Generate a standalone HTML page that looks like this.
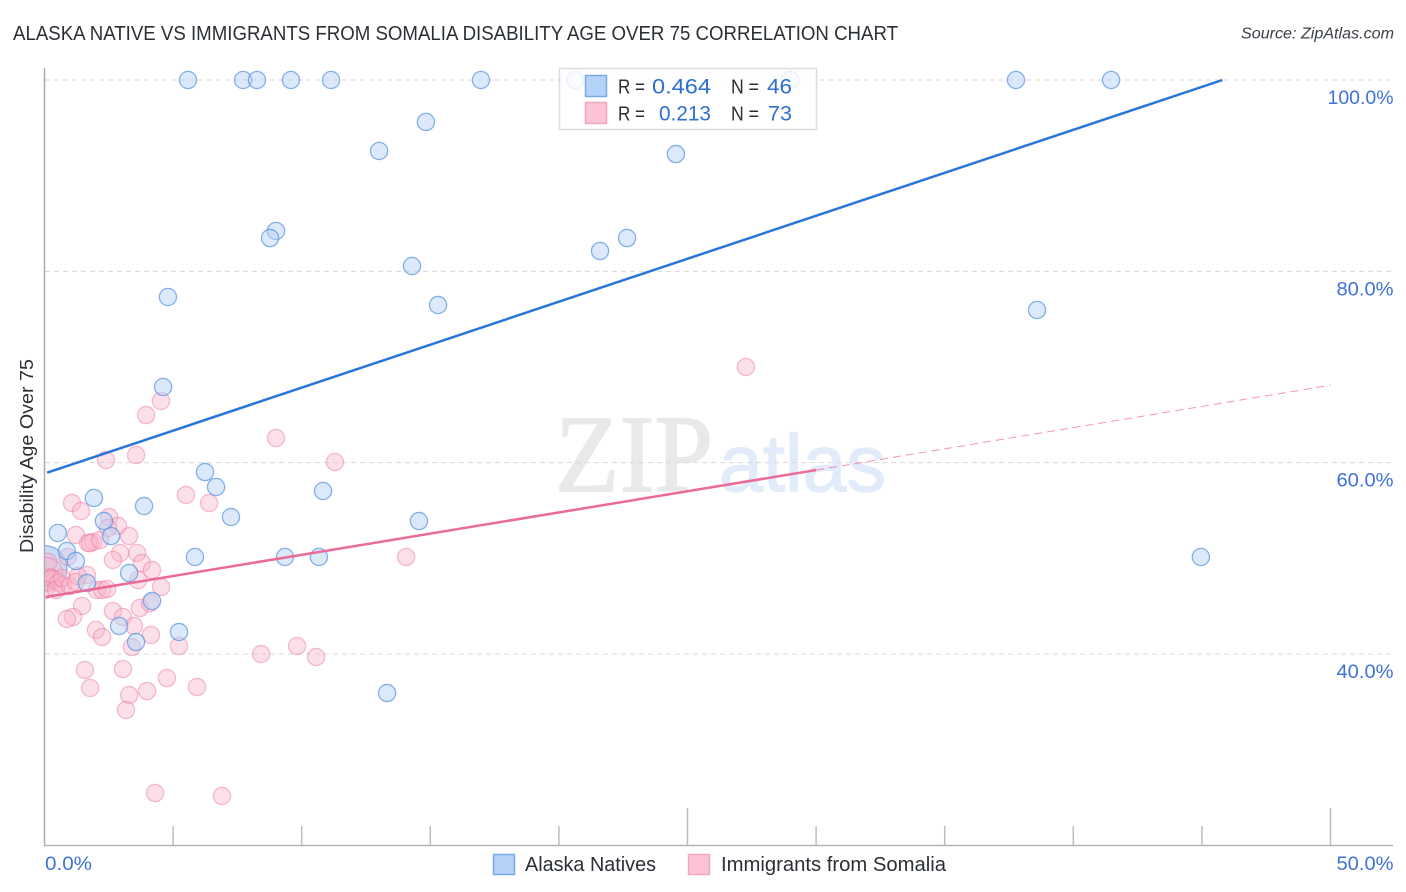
<!DOCTYPE html>
<html lang="en">
<head>
<meta charset="utf-8">
<title>Alaska Native vs Immigrants from Somalia Disability Age Over 75 Correlation Chart</title>
<style>
html,body{margin:0;padding:0;background:#fff;width:1406px;height:892px;overflow:hidden}
svg{display:block;font-family:"Liberation Sans",sans-serif}
</style>
</head>
<body>
<svg id="chart" xmlns="http://www.w3.org/2000/svg" width="1406" height="892" viewBox="0 0 1406 892">
  <defs><clipPath id="plot-clip"><rect x="45" y="60" width="1350" height="785"/></clipPath></defs>
  <text x="13" y="40" font-size="20" fill="#2b2f36" textLength="885" lengthAdjust="spacingAndGlyphs">ALASKA NATIVE VS IMMIGRANTS FROM SOMALIA DISABILITY AGE OVER 75 CORRELATION CHART</text>
  <text x="1241" y="38.500" font-size="15.500" font-style="italic" fill="#3a3f47" textLength="153" lengthAdjust="spacingAndGlyphs">Source: ZipAtlas.com</text>
  <g>
    <text x="555" y="491" font-size="110" font-family="'Liberation Serif',serif" fill="#e9e9e9" stroke="#e9e9e9" stroke-width="1.5" textLength="158" lengthAdjust="spacingAndGlyphs">ZIP</text>
    <text x="719" y="491" font-size="81" fill="#e1ebfa" stroke="#e1ebfa" stroke-width="1.2" textLength="167" lengthAdjust="spacingAndGlyphs">atlas</text>
  </g>
  <g id="grid"></g>
  <g id="axes"></g>
  <g id="points" clip-path="url(#plot-clip)"></g>
  <g id="trends"></g>
  <text transform="translate(33,553) rotate(-90)" font-size="18" fill="#2b2f36" textLength="194" lengthAdjust="spacingAndGlyphs">Disability Age Over 75</text>
  <g font-size="20">
    <rect x="559.500" y="68.500" width="257" height="61" fill="#fff" fill-opacity="0.82" stroke="#dcdcdc" stroke-width="1.500"/>
    <rect x="585.500" y="75.500" width="21" height="21" fill="#b5d3f9" stroke="#7aa9e8" stroke-width="1.500"/>
    <rect x="585.500" y="102.500" width="21" height="21" fill="#fcc3d6" stroke="#f2a6c0" stroke-width="1.500"/>
    <text x="618" y="93.500" fill="#2b2f36" textLength="27" lengthAdjust="spacingAndGlyphs">R =</text>
    <text x="652" y="93.500" fill="#2f6fd0" font-size="21.500" textLength="59" lengthAdjust="spacingAndGlyphs">0.464</text>
    <text x="731" y="93.500" fill="#2b2f36" textLength="28" lengthAdjust="spacingAndGlyphs">N =</text>
    <text x="767" y="93.500" fill="#2f6fd0" font-size="21.500" textLength="25" lengthAdjust="spacingAndGlyphs">46</text>
    <text x="618" y="120.500" fill="#2b2f36" textLength="27" lengthAdjust="spacingAndGlyphs">R =</text>
    <text x="659" y="120.500" fill="#2f6fd0" font-size="21.500" textLength="52" lengthAdjust="spacingAndGlyphs">0.213</text>
    <text x="731" y="120.500" fill="#2b2f36" textLength="28" lengthAdjust="spacingAndGlyphs">N =</text>
    <text x="768" y="120.500" fill="#2f6fd0" font-size="21.500" textLength="24" lengthAdjust="spacingAndGlyphs">73</text>
  </g>
  <g font-size="20" fill="#2b2f36">
    <rect x="493.500" y="854.500" width="21" height="20" fill="#b5d3f9" stroke="#7aa9e8" stroke-width="1.500"/>
    <text x="525" y="871" textLength="131" lengthAdjust="spacingAndGlyphs">Alaska Natives</text>
    <rect x="688.500" y="854.500" width="21" height="20" fill="#fcc3d6" stroke="#f2a6c0" stroke-width="1.500"/>
    <text x="721" y="871" textLength="225" lengthAdjust="spacingAndGlyphs">Immigrants from Somalia</text>
  </g>
</svg>
<script>
const yTicks = [100, 80, 60, 40];
const yTickLabels = ["100.0%", "80.0%", "60.0%", "40.0%"];
const xTicks = [5, 10, 15, 20, 25, 30, 35, 40, 45, 50];
const xMajorTicks = [25, 50];
const xEndLabels = ["0.0%", "50.0%"];

const blueX = [5.58,7.72,8.26,9.58,11.14,16.97,20.63,28.99,37.77,41.47,14.83,13.01,24.55,9.00,8.77,22.65,21.60,14.29,4.80,15.30,38.59,4.61,6.24,6.67,10.83,1.92,3.87,7.25,2.31,14.56,0.52,2.59,0.87,1.22,5.85,9.35,10.67,44.96,3.29,1.65,4.18,2.90,5.23,3.56,13.32,0.00];
const blueY = [100,100,100,100,100,100,100,100,100,100,95.61,92.58,92.26,84.22,83.48,83.48,82.13,80.56,77.32,76.48,75.96,67.91,59.02,57.46,57.04,56.31,55.47,54.32,53.90,53.90,52.65,52.33,50.77,49.72,50.14,50.14,50.14,50.14,48.47,47.42,45.54,42.93,42.30,41.25,35.92,48.99];
const blueSize = [1,1,1,1,1,1,1,1,1,1,1,1,1,1,1,1,1,1,1,1,1,1,1,1,1,1,1,1,1,1,1,1,1,1,1,1,1,1,1,1,1,1,1,1,1,2.6];

const pinkX = [27.27,3.95,4.53,9.00,2.39,3.56,11.29,5.50,6.40,1.07,1.42,2.51,2.86,2.47,1.22,3.29,1.69,1.89,1.77,2.16,2.94,2.66,3.60,3.79,4.18,3.64,4.53,14.06,0.91,1.65,2.04,2.24,2.43,1.46,1.11,0.87,2.66,3.05,3.48,3.71,4.10,2.00,2.24,4.14,5.23,3.40,1.57,3.05,4.76,1.77,3.99,3.29,5.93,3.17,8.42,9.82,10.56,4.30,6.90,0.14,0.05,0.21,0.41,0.25,0.28,0.52,0.72,0.02,0.45,0.68,0.99,1.30,1.22];
const pinkY = [70.00,64.98,66.45,62.58,60.28,60.80,60.07,56.62,55.78,55.78,54.95,54.32,53.38,53.17,52.44,52.33,51.60,51.71,51.60,51.92,50.56,49.83,50.56,49.51,48.78,47.73,47.00,50.14,50.14,48.26,46.69,46.69,46.79,45.02,43.87,43.66,44.49,43.87,42.93,44.81,45.33,42.51,41.78,41.99,40.84,40.73,38.33,38.43,37.49,36.45,36.13,35.71,36.55,34.15,40.00,40.84,39.69,25.47,25.16,49.62,48.30,47.94,47.73,48.00,47.85,47.42,47.21,46.69,46.69,47.94,47.11,48.15,47.53];
const pinkSize = [1,1,1,1,1,1,1,1,1,1,1,1,1,1,1,1,1,1,1,1,1,1,1,1,1,1,1,1,1,1,1,1,1,1,1,1,1,1,1,1,1,1,1,1,1,1,1,1,1,1,1,1,1,1,1,1,1,1,1,1,2,1,1,1,1,1,1,1,1,1,1,1,1];

const blueTrendX = [0.1, 45.8];
const blueTrendY = [58.95, 100];
const pinkTrendX = [0.05, 30];
const pinkTrendY = [45.96, 59.23];
const pinkDashX = [30, 50];
const pinkDashY = [59.23, 68.1];

const NS = "http://www.w3.org/2000/svg";
const xScale = function (v) { return 44.5 + v * 25.72; };
const yScale = function (v) { return 80 + (100 - v) * 9.567; };

function make(tag, parent, attrs, text) {
  const el = document.createElementNS(NS, tag);
  for (const k in attrs) el.setAttribute(k, attrs[k]);
  if (text !== undefined) el.textContent = text;
  parent.appendChild(el);
  return el;
}

const grid = document.getElementById("grid");
const axes = document.getElementById("axes");
const points = document.getElementById("points");
const trends = document.getElementById("trends");

function addBlue(v, i) {
  const big = blueSize[i] > 1;
  const dot = make("circle", points, { cx: xScale(v), cy: yScale(blueY[i]), r: 8.6 * blueSize[i], fill: "#b3d0f5", "fill-opacity": big ? 0.7 : 0.48, stroke: "#5b94e0", "stroke-opacity": 0.72, "stroke-width": 1.3 });
  
  
}

yTicks.forEach(function (t, i) {
  const line = make("line", grid, { x1: 45, x2: 1393, y1: yScale(t), y2: yScale(t), stroke: "#d9d9d9", "stroke-width": 1, "stroke-dasharray": "5 4" });
  
  
  const label = make("text", axes, { x: 1393.5, y: yScale(t) + 24, "text-anchor": "end", "font-size": 19.5, fill: "#3f72d6", textLength: yTickLabels[i].length === 6 ? 66 : 57, lengthAdjust: "spacingAndGlyphs" }, yTickLabels[i]);
  
  
});

const leftAxis = make("line", axes, { x1: 44.5, x2: 44.5, y1: 68, y2: 846, stroke: "#aaaaaa", "stroke-width": 1.5 });


const bottomAxis = make("line", axes, { x1: 44, x2: 1393, y1: 845.5, y2: 845.5, stroke: "#b5b5b5", "stroke-width": 1.5 });



xTicks.forEach(function (t) {
  const top = xMajorTicks.indexOf(t) >= 0 ? 808 : 826;
  const tick = make("line", axes, { x1: xScale(t), x2: xScale(t), y1: top, y2: 845, stroke: "#bdbdbd", "stroke-width": 1.500 });
  
  
});

const xStartLabel = make("text", axes, { x: 45, y: 870, "font-size": 19.5, fill: "#3f72d6", textLength: 47, lengthAdjust: "spacingAndGlyphs" }, xEndLabels[0]);


const xEndLabel = make("text", axes, { x: 1393.5, y: 870, "text-anchor": "end", "font-size": 19.5, fill: "#3f72d6", textLength: 57, lengthAdjust: "spacingAndGlyphs" }, xEndLabels[1]);



blueX.forEach(function (v, i) { if (blueSize[i] > 1) addBlue(v, i); });

pinkX.forEach(function (v, i) {
  const dot = make("circle", points, { cx: xScale(v), cy: yScale(pinkY[i]), r: 8.6 * pinkSize[i], fill: "#f8b4cb", "fill-opacity": 0.42, stroke: "#ec7ea3", "stroke-opacity": 0.5, "stroke-width": 1.3 });
  
  
});

blueX.forEach(function (v, i) { if (blueSize[i] === 1) addBlue(v, i); });

const pinkDash = make("line", trends, { x1: xScale(pinkDashX[0]), y1: yScale(pinkDashY[0]), x2: xScale(pinkDashX[1]), y2: yScale(pinkDashY[1]), stroke: "#ec6a98", "stroke-width": 1, "stroke-opacity": 0.7, "stroke-dasharray": "8 5" });


const pinkLine = make("line", trends, { x1: xScale(pinkTrendX[0]), y1: yScale(pinkTrendY[0]), x2: xScale(pinkTrendX[1]), y2: yScale(pinkTrendY[1]), stroke: "#ec6a98", "stroke-width": 2.5 });


const blueLine = make("line", trends, { x1: xScale(blueTrendX[0]), y1: yScale(blueTrendY[0]), x2: xScale(blueTrendX[1]), y2: yScale(blueTrendY[1]), stroke: "#2a75d9", "stroke-width": 2.5 });


</script>
</body>
</html>
